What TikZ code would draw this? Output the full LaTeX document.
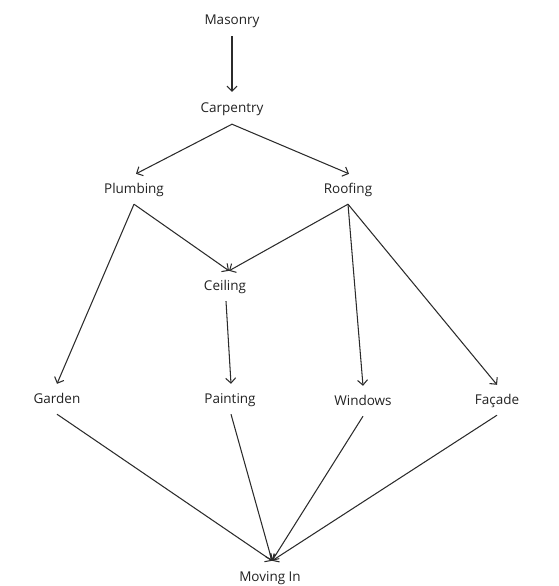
\documentclass[tikz,border=0pt]{standalone}
\usepackage{fontspec}
\setmainfont{Open Sans}
\usetikzlibrary{arrows.meta}
\definecolor{edgecol}{HTML}{2B2B2B}
\definecolor{txtcol}{HTML}{222222}
\begin{document}
\begin{tikzpicture}[x=1pt,y=-1pt,
  task/.style={text=txtcol, font=\fontsize{13.5}{15}\selectfont, minimum height=30pt, text height=9pt, text depth=1pt, inner sep=0pt, anchor=center},
  dep/.style={draw=edgecol, line width=1.05pt, -{Straight Barb[length=5pt,width=10pt]}}]
\useasboundingbox (0,0) rectangle (558,586);
\node[task] (mas) at (232,21) {Masonry};
\node[task] (car) at (232,108) {Carpentry};
\node[task] (plu) at (134,189) {Plumbing};
\node[task] (roo) at (348,189) {Roofing};
\node[task] (cei) at (225,286) {Ceiling};
\node[task] (gar) at (57,399) {Garden};
\node[task] (pai) at (230,399) {Painting};
\node[task] (win) at (363,401) {Windows};
\node[task] (fac) at (497,400) {Façade};
\node[task] (mov) at (270,577) {Moving In};
\draw[dep] (mas.south) -- ([yshift=1pt]car.north);
\draw[dep] ([yshift=-1pt]car.south) -- ([xshift=2pt]plu.north);
\draw[dep] ([yshift=-1pt]car.south) -- ([xshift=1pt]roo.north);
\draw[dep] (plu.south) -- ([xshift=4pt]cei.north);
\draw[dep] (roo.south) -- ([xshift=4pt]cei.north);
\draw[dep] (plu.south) -- (gar.north);
\draw[dep] ([xshift=1pt]cei.south) -- ([xshift=1pt]pai.north);
\draw[dep] (roo.south) -- (win.north);
\draw[dep] (roo.south) -- (fac.north);
\draw[dep] (gar.south) -- ([xshift=2pt,yshift=1pt]mov.north);
\draw[dep] ([xshift=1pt]pai.south) -- ([xshift=2pt,yshift=1pt]mov.north);
\draw[dep] (win.south) -- ([xshift=2pt,yshift=1pt]mov.north);
\draw[dep] (fac.south) -- ([xshift=2pt,yshift=1pt]mov.north);
\end{tikzpicture}
\end{document}
